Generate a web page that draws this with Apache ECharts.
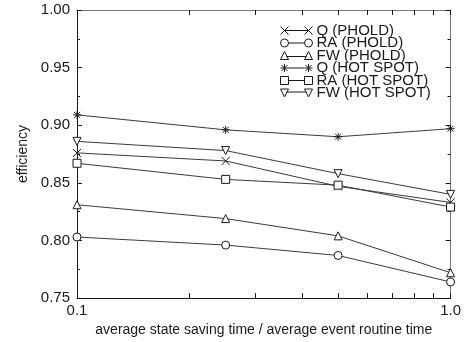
<!DOCTYPE html>
<html>
<head>
<meta charset="utf-8">
<style>html,body{margin:0;padding:0;background:#fff;}#c{width:464px;height:342px;}</style>
<script src="https://cdn.jsdelivr.net/npm/echarts@6/dist/echarts.min.js"></script>
</head>
<body>
<div id="c"></div>
<script>
const xValues = [0.1, 0.25, 0.5, 1.0];
const qPhold  = [0.876, 0.869, 0.847, 0.833];
const raPhold = [0.803, 0.796, 0.787, 0.764];
const fwPhold = [0.831, 0.819, 0.804, 0.772];
const qHot    = [0.909, 0.896, 0.890, 0.897];
const raHot   = [0.867, 0.853, 0.848, 0.829];
const fwHot   = [0.886, 0.878, 0.858, 0.840];
const seriesNames = ['Q (PHOLD)', 'RA (PHOLD)', 'FW (PHOLD)', 'Q (HOT SPOT)', 'RA (HOT SPOT)', 'FW (HOT SPOT)'];
const xTickValues = [0.1, 0.2, 0.3, 0.4, 0.5, 0.6, 0.7, 0.8, 0.9, 1.0];
const xLabelValues = [0.1, 1.0];

const FONT = 'Liberation Sans';
const INK = '#1a1a1a';
const LINE = '#3a3a3a';

const sym = {
  cross: 'path://M0,0L8,8M0,8L8,0',
  star: 'path://M0,4L8,4M4,0L4,8M1,1L7,7M1,7L7,1'
};
const icons = [
  'path://M0,0L8,8M0,8L8,0M4,4L28,4M24,0L32,8M24,8L32,0',
  'path://M0,4A4,4,0,1,1,8,4A4,4,0,1,1,0,4ZM8,4L24,4M24,4A4,4,0,1,1,32,4A4,4,0,1,1,24,4Z',
  'path://M4,0L8,8L0,8ZM6,5L26,5M28,0L32,8L24,8Z',
  'path://M0,4L8,4M4,0L4,8M1,1L7,7M1,7L7,1M8,4L24,4M24,4L32,4M28,0L28,8M25,1L31,7M25,7L31,1',
  'path://M0,0L8,0L8,8L0,8ZM8,4L24,4M24,0L32,0L32,8L24,8Z',
  'path://M0,0L8,0L4,8ZM6,3L26,3M24,0L32,0L28,8Z'
];
const symbols = [sym.cross, 'circle', 'triangle', sym.star, 'rect', 'triangle'];
const rotates = [0, 0, 0, 0, 0, 180];
const values = [qPhold, raPhold, fwPhold, qHot, raHot, fwHot];

function mk(i) {
  return {
    name: seriesNames[i],
    type: 'line',
    xAxisIndex: 0, yAxisIndex: 0,
    data: xValues.map((x, k) => [x, values[i][k]]),
    symbol: symbols[i],
    symbolRotate: rotates[i],
    symbolSize: 8,
    lineStyle: { color: LINE, width: 1 },
    itemStyle: { color: '#fff', borderColor: INK, borderWidth: 1 },
    emphasis: { disabled: true },
    animation: false,
    z: 3
  };
}

const tickStyle = { inside: true, length: 5, lineStyle: { color: INK, width: 1 } };
const chart = echarts.init(document.getElementById('c'), null, { renderer: 'canvas' });
chart.setOption({
  animation: false,
  backgroundColor: '#fff',
  grid: { left: 77, right: 12, top: 10, bottom: 39, containLabel: false },
  legend: {
    orient: 'vertical', left: 280, top: 23, padding: 0,
    itemWidth: 32, itemHeight: 9, itemGap: -2.5,
    itemStyle: { color: '#fff', borderColor: INK, borderWidth: 1 },
    textStyle: { fontFamily: FONT, fontSize: 15, color: INK, padding: [0, 0, 0, -1] },
    data: seriesNames.map((n, i) => ({ name: n, icon: icons[i] })),
    selectedMode: false
  },
  xAxis: [{
    type: 'log', logBase: 10, min: 0.1, max: 1, position: 'bottom',
    axisLine: { lineStyle: { color: INK, width: 1 } },
    axisTick: Object.assign({ customValues: xTickValues }, tickStyle),
    axisLabel: { customValues: xLabelValues, formatter: v => Number(v).toFixed(1), fontFamily: FONT, fontSize: 15, color: INK, margin: 5 },
    splitLine: { show: false }, minorTick: { show: false },
    name: 'average state saving time / average event routine time',
    nameLocation: 'middle', nameGap: 24,
    nameTextStyle: { fontFamily: FONT, fontSize: 14, color: INK }
  }, {
    type: 'log', logBase: 10, min: 0.1, max: 1, position: 'top',
    axisLine: { lineStyle: { color: '#777', width: 1 } },
    axisTick: Object.assign({ customValues: xTickValues }, tickStyle),
    axisLabel: { show: false }, splitLine: { show: false }
  }],
  yAxis: [{
    type: 'value', min: 0.75, max: 1.0, interval: 0.05, position: 'left',
    axisLine: { show: true, lineStyle: { color: INK, width: 1 } },
    axisTick: tickStyle,
    minorTick: { show: true, splitNumber: 2, length: 3, lineStyle: { color: INK } },
    axisLabel: { formatter: v => v.toFixed(2), fontFamily: FONT, fontSize: 15, color: INK, margin: 7 },
    splitLine: { show: false },
    name: 'efficiency', nameLocation: 'middle', nameGap: 46,
    nameTextStyle: { fontFamily: FONT, fontSize: 14, color: INK }
  }, {
    type: 'value', min: 0.75, max: 1.0, interval: 0.05, position: 'right',
    axisLine: { show: true, lineStyle: { color: '#777', width: 1 } },
    axisTick: tickStyle,
    minorTick: { show: true, splitNumber: 2, length: 3, lineStyle: { color: INK } },
    axisLabel: { show: false }, splitLine: { show: false }
  }],
  series: [0, 1, 2, 3, 4, 5].map(mk)
});
</script>
</body>
</html>
